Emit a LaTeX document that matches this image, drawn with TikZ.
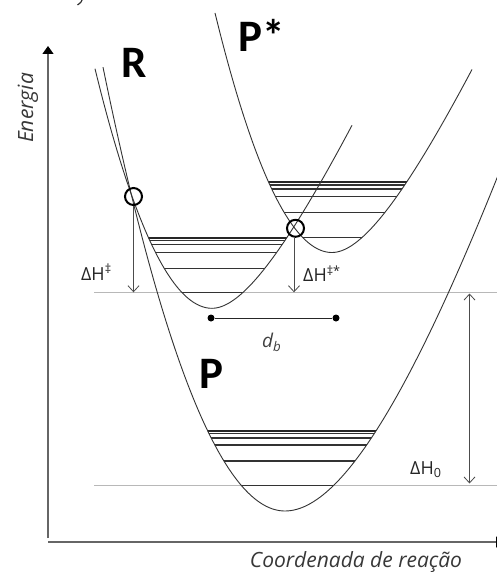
\documentclass[tikz,border=0pt]{standalone}
\usepackage{fontspec}
\setmainfont{Open Sans}
\newfontfamily\labfont{Carlito}
\usetikzlibrary{arrows.meta}
\begin{document}
\begin{tikzpicture}[x=1pt,y=-1pt,
  declare function={wl(\u)=175*\u*\u; wr(\u)=212.1*\u*\u/(1+0.9083*\u);
                    pl(\u)=134*\u*\u; pr(\u)=125.59*\u*\u/(1+0.3278*\u);},
  curve/.style={line width=0.9pt, black!80},
  rung/.style={line width=1.1pt, black!80},
  toprung/.style={line width=1.8pt, black!85},
  refline/.style={line width=0.9pt, black!28},
  axis/.style={line width=1.3pt, black!60},
  barb/.tip={Straight Barb[length=6pt,width=11pt]},
  dimarrow/.style={line width=0.8pt, black!70, -barb},
  tsmark/.style={circle, draw=black, line width=2pt, minimum size=17pt, inner sep=0pt},
  dot/.style={circle, fill=black, minimum size=7pt, inner sep=0pt},
  bigl/.style={font=\labfont\bfseries\fontsize{45}{45}\selectfont, inner sep=0pt, anchor=base west},
  dh/.style={font=\fontsize{18}{18}\selectfont, text=black!85, inner sep=0pt, anchor=base west},
  axl/.style={font=\itshape\fontsize{21}{21}\selectfont, text=black!78, inner sep=0pt}
]
\clip (0,0) rectangle (497,572);
\fill[white] (0,0) rectangle (497,572);

% wells
\def\Rwell{plot[domain=95:212,samples=60] (\x,{308.3-wl((\x-212)/100)}) -- plot[domain=212:352,samples=60] (\x,{308.3-wr((\x-212)/100)})}
\def\Swell{plot[domain=215:332,samples=60] (\x,{252.5-wl((\x-332)/100)}) -- plot[domain=332:472,samples=60] (\x,{252.5-wr((\x-332)/100)})}
\def\Pwell{plot[domain=103:285,samples=70] (\x,{511-pl((\x-285)/100)}) -- plot[domain=285:505,samples=70] (\x,{511-pr((\x-285)/100)})}

% reference lines
\coordinate (g1a) at (94,292.3);
\coordinate (g1b) at (497,292.3);
\coordinate (g2a) at (94,485);
\coordinate (g2b) at (497,485);
\draw[refline] (g1a) -- (g1b);
\draw[refline] (g2a) -- (g2b);

% rungs
\begin{scope}
  \clip \Rwell -- cycle;
  \draw[toprung] (0,238) -- (497,238);
  \foreach \h in {240.8,244.8,252.3,268.8,292.3} \draw[rung] (0,\h) -- (497,\h);
\end{scope}
\begin{scope}
  \clip \Swell -- cycle;
  \draw[toprung] (0,182.3) -- (497,182.3);
  \foreach \h in {185,189,196.5,212.5,237.5} \draw[rung] (0,\h) -- (497,\h);
\end{scope}
\begin{scope}
  \clip \Pwell -- cycle;
  \draw[toprung] (0,431) -- (497,431);
  \foreach \h in {433.5,438,445,461,485.5} \draw[rung] (0,\h) -- (497,\h);
\end{scope}

% curves
\draw[curve] \Rwell;
\draw[curve] \Swell;
\draw[curve] \Pwell;

% axes
\coordinate (yb) at (48,538);
\coordinate (yt) at (48,46);
\coordinate (xl) at (48,542);
\coordinate (xr) at (504,542);
\draw[axis, -{Triangle[length=8pt,width=11pt,color=black]}] (yb) -- (yt);
\draw[axis, -{Triangle[length=8pt,width=11pt,color=black]}] (xl) -- (xr);

% transition state marks
\node[tsmark] (ts1) at (133.5,196.5) {};
\node[tsmark] (ts2) at (295.5,228.3) {};
\draw[dimarrow] (ts1.south) -- (ts1.south |- g1a);
\draw[dimarrow] ([xshift=-1.5pt]ts2.south) -- ([xshift=-1.5pt]ts2.south |- g1a);

% Delta H0
\coordinate (h0t) at (469.5,293.5);
\coordinate (h0b) at (469.5,483.5);
\draw[dimarrow, barb-barb] (h0t) -- (h0b);

% d_b
\node[dot] (d1) at (211,318) {};
\node[dot] (d2) at (336,318) {};
\draw[line width=1pt, black!85] (d1) -- (d2);

% labels
\node[bigl] (R) at (121,77.5) {R};
\node[bigl] (Ps) at (238,52) {P*};
\node[bigl] (P) at (199,388) {P};
\node[dh] (dh1) at (81,280) {ΔH\textsuperscript{‡}};
\node[dh] (dh2) at (303,281.5) {ΔH\textsuperscript{‡*}};
\node[dh] (dh0) at (410,474) {ΔH\textsubscript{0}};
\node[dh, font=\itshape\fontsize{19}{19}\selectfont, text=black!75] (db) at (262,347) {d\textsubscript{b}};
\node[axl, rotate=90, anchor=base] (en) at (33,108) {Energia};
\node[axl, anchor=base] (co) at (356,567) {Coordenada de reação};

% fragment of a glyph cut by the top edge
\draw[line width=1.2pt, black!80] (82.5,-2) .. controls (81.5,2) .. (77.5,5);
\end{tikzpicture}
\end{document}
